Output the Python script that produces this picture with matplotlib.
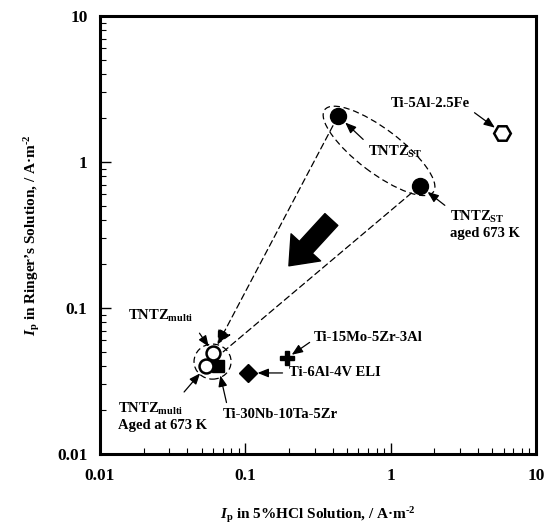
import numpy as np
import matplotlib
matplotlib.use("Agg")
import matplotlib.pyplot as plt
from matplotlib.patches import Ellipse
from matplotlib.ticker import LogLocator, FuncFormatter, NullFormatter

plt.rcParams["font.family"] = ["Liberation Serif", "DejaVu Serif"]
plt.rcParams["font.weight"] = "bold"
plt.rcParams["axes.labelweight"] = "bold"
plt.rcParams["mathtext.fontset"] = "custom"
plt.rcParams["mathtext.rm"] = "Liberation Serif:bold"
plt.rcParams["mathtext.it"] = "Liberation Serif:bold:italic"
plt.rcParams["mathtext.bf"] = "Liberation Serif:bold"

# passivation current Ip (A/m^2): 5%HCl (x) vs Ringer's solution (y)
alloys = ["TNTZ_ST", "TNTZ_ST_aged", "Ti-5Al-2.5Fe", "Ti-15Mo-5Zr-3Al",
          "Ti-6Al-4V ELI", "Ti-30Nb-10Ta-5Zr", "TNTZ_multi", "TNTZ_multi_aged"]
ip_hcl = [0.435, 1.59, 5.85, 0.194, 0.104, 0.065, 0.060, 0.054]
ip_ringer = [2.07, 0.686, 1.58, 0.0455, 0.0359, 0.0401, 0.0492, 0.0401]

labels = {
    "TNTZ_ST": r"TNTZ$_{\rm ST}$",
    "TNTZ_ST_aged": "TNTZ$_{\\rm ST}$\naged 673 K",
    "Ti-5Al-2.5Fe": "Ti-5Al-2.5Fe",
    "Ti-15Mo-5Zr-3Al": "Ti-15Mo-5Zr-3Al",
    "Ti-6Al-4V ELI": "Ti-6Al-4V ELI",
    "Ti-30Nb-10Ta-5Zr": "Ti-30Nb-10Ta-5Zr",
    "TNTZ_multi": r"TNTZ$_{\rm multi}$",
    "TNTZ_multi_aged": "TNTZ$_{\\rm multi}$\nAged at 673 K",
}

# marker, filled?, size
styles = {
    "TNTZ_ST": ("o", True, 11.5),
    "TNTZ_ST_aged": ("o", True, 11.5),
    "Ti-5Al-2.5Fe": ("H", False, 12),
    "Ti-15Mo-5Zr-3Al": ("P", True, 9.5),
    "Ti-6Al-4V ELI": ("D", True, 9),
    "Ti-30Nb-10Ta-5Zr": ("s", True, 8.5),
    "TNTZ_multi": ("o", False, 10),
    "TNTZ_multi_aged": ("o", False, 10),
}

# text offset (points), ha, arrow relpos, shrinkA, shrinkB
notes = {
    "TNTZ_ST": ((21.5, -26), "left", (0.0, 1.0), 2, 7),
    "TNTZ_ST_aged": ((21.5, -28), "left", (0.0, 1.0), 2, 7),
    "Ti-5Al-2.5Fe": ((-52, 21), "center", (1.0, 0.1), 2, 6.5),
    "Ti-15Mo-5Zr-3Al": ((19, 15), "left", (0.0, 0.3), 1, 4),
    "Ti-6Al-4V ELI": ((30, 0), "left", (0.0, 0.5), 3, 7),
    "Ti-30Nb-10Ta-5Zr": ((3.6, -35), "left", (0.04, 1.0), 2, 7),
    "TNTZ_multi": ((-38, 27), "center", (1.0, 0.0), 6, 5.5),
    "TNTZ_multi_aged": ((-64, -36.5), "left", (0.66, 1.0), 6, 7),
}

fig = plt.figure(figsize=(5.52, 5.24), dpi=100)
ax = fig.add_axes([100 / 552, 70 / 524, 436 / 552, 438 / 524])
ax.set_xscale("log")
ax.set_yscale("log")
ax.set_xlim(0.01, 10)
ax.set_ylim(0.01, 10)

for name, x, y in zip(alloys, ip_hcl, ip_ringer):
    m, filled, ms = styles[name]
    ax.plot(x, y, marker=m, ms=ms, color="black",
            mfc="black" if filled else "white", mec="black",
            mew=1.0 if filled else 1.8, zorder=5)

for name, x, y in zip(alloys, ip_hcl, ip_ringer):
    off, ha, rel, sa, sb = notes[name]
    ax.annotate(labels[name], xy=(x, y), xytext=off, textcoords="offset points",
                ha=ha, va="center", multialignment="left", fontsize=10.5,
                fontweight="bold", zorder=6,
                arrowprops=dict(arrowstyle="-|>,head_length=0.55,head_width=0.22",
                                color="black", lw=0.9, relpos=rel,
                                shrinkA=sa, shrinkB=sb, mutation_scale=12))

# dashed guide lines from the ST states to the multi states
i_st, i_sta = alloys.index("TNTZ_ST"), alloys.index("TNTZ_ST_aged")
i_mu, i_mua = alloys.index("TNTZ_multi"), alloys.index("TNTZ_multi_aged")
i_nb = alloys.index("Ti-30Nb-10Ta-5Zr")
dash = (0, (5, 3))
ax.annotate("", xy=(ip_hcl[i_mu], ip_ringer[i_mu]), xytext=(ip_hcl[i_st], ip_ringer[i_st]),
            arrowprops=dict(arrowstyle="-|>,head_length=0.6,head_width=0.3",
                            color="black", lw=0.9, linestyle=dash,
                            shrinkA=8, shrinkB=7, mutation_scale=15), zorder=3)
ax.annotate("", xy=(ip_hcl[i_mua], ip_ringer[i_mua]), xytext=(ip_hcl[i_sta], ip_ringer[i_sta]),
            arrowprops=dict(arrowstyle="-", color="black", lw=0.9, linestyle=dash,
                            shrinkA=8, shrinkB=15), zorder=3)

# dashed ellipses around the groups
to_ax = ax.transData + ax.transAxes.inverted()
pa = to_ax.transform((ip_hcl[i_st], ip_ringer[i_st]))
pb = to_ax.transform((ip_hcl[i_sta], ip_ringer[i_sta]))
ax.add_patch(Ellipse((pa + pb) / 2, 0.312, 0.10, angle=-37, transform=ax.transAxes,
                     fill=False, ec="black", lw=0.9, ls=dash, zorder=3))
grp = np.array([to_ax.transform((ip_hcl[i], ip_ringer[i])) for i in (i_mu, i_mua, i_nb)])
ax.add_patch(Ellipse(grp.mean(axis=0), 0.085, 0.080, transform=ax.transAxes,
                     fill=False, ec="black", lw=0.9, ls=dash, zorder=3))

# big arrow showing the trend
ax.annotate("", xy=(0.429, 0.425), xytext=(0.535, 0.54), xycoords="axes fraction",
            arrowprops=dict(arrowstyle="simple,head_length=1.0,head_width=1.6,tail_width=0.7",
                            fc="black", ec="black", mutation_scale=18))

fmt = FuncFormatter(lambda v, p: f"{v:g}")
for axis in (ax.xaxis, ax.yaxis):
    axis.set_major_locator(LogLocator(base=10))
    axis.set_minor_locator(LogLocator(base=10, subs=np.arange(2, 10)))
    axis.set_major_formatter(fmt)
    axis.set_minor_formatter(NullFormatter())
ax.tick_params(which="both", direction="in", top=False, right=False, labelsize=12.5)
ax.tick_params(which="major", length=8, width=1.0)
ax.tick_params(which="minor", length=4, width=0.8)
ax.tick_params(axis="y", pad=9)
ax.tick_params(axis="x", pad=10)
for s in ax.spines.values():
    s.set_linewidth(2.2)

ax.set_xlabel(r"$I_{\rm p}$ in 5%HCl Solution, / A·m$^{\text{-2}}$", fontsize=11, labelpad=15)
ax.set_ylabel(r"$I_{\rm p}$ in Ringer’s Solution, / A·m$^{\text{-2}}$", fontsize=11, labelpad=11)

fig.savefig("out.png", dpi=100)
